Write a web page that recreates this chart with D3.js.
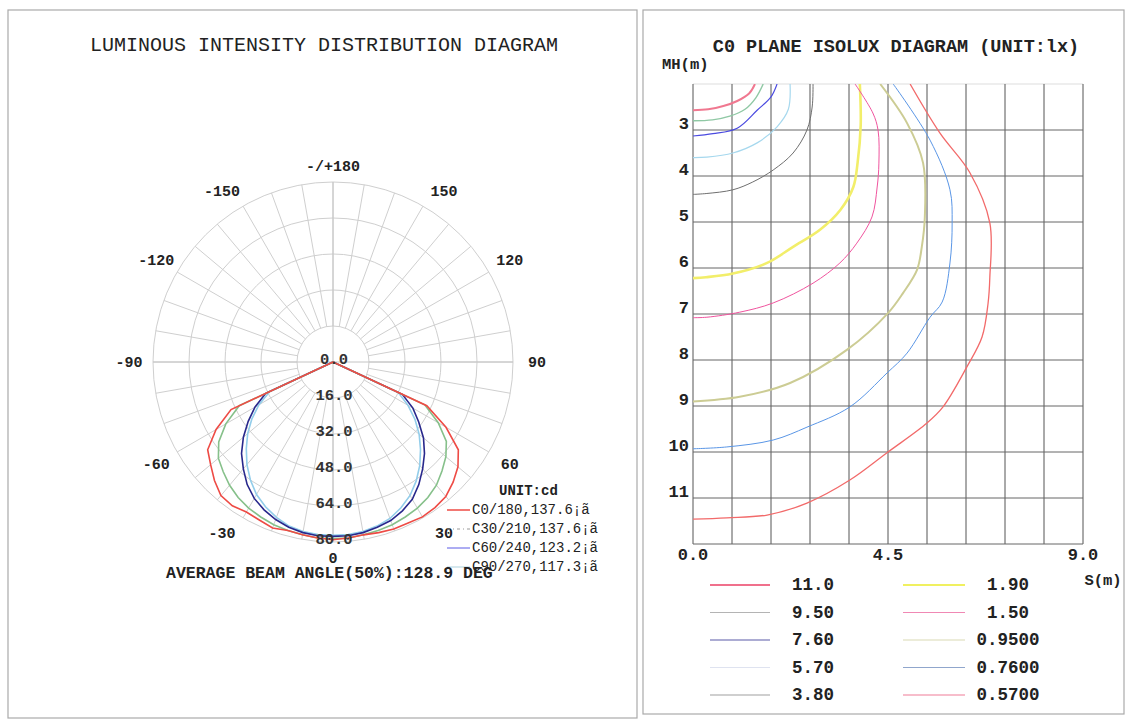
<!DOCTYPE html>
<html>
<head>
<meta charset="utf-8">
<script src="https://cdn.jsdelivr.net/npm/d3@7"></script>
<style>
body { margin: 0; background: #fff; }
svg text { font-family: "Liberation Mono", "DejaVu Sans Mono", monospace; fill: #222; }
</style>
</head>
<body>
<svg id="chart" width="1126" height="720"></svg>
<script>
// ---- luminous intensity (polar) data ----
var gammaAngles = [0, 5, 10, 15, 20, 25, 30, 35, 40, 45, 50, 55, 60, 65, 90];
var c0Values   = [79, 78.5, 78, 78.5, 79, 79, 79.5, 79, 78, 75.5, 72.5, 68, 58, 46, 0];
var c180Values = [79, 78.5, 78, 77.5, 78.5, 77.5, 77, 78, 77.5, 74.5, 71, 68, 60, 50, 0];
var c30Values  = [78.5, 78.5, 78, 77.5, 77, 76, 75, 73.5, 71.5, 68.5, 65.5, 61.5, 54, 45, 0];
var c210Values = [78.5, 78.5, 78, 77.5, 77, 76, 75, 73.5, 71.5, 69, 66.5, 62, 55, 46, 0];
var c60Values  = [77.5, 77.5, 77, 76, 75, 73, 70.5, 66.5, 62, 57.5, 52.5, 46.5, 41, 34, 0];
var c240Values = [77.5, 77.5, 77, 76, 74.5, 72.5, 70, 66.5, 62, 57.5, 52, 46, 40, 33, 0];
var c90Values  = [77, 77, 76.5, 75.5, 74, 71.5, 68.5, 64.5, 60, 55, 50, 44.5, 38.5, 32, 0];
var c270Values = [77, 77, 76.5, 75.5, 73.5, 71, 68, 64, 59.5, 54.5, 49.5, 44, 38, 31, 0];
var polarLegend = ["C0/180,137.6¡ã", "C30/210,137.6¡ã", "C60/240,123.2¡ã", "C90/270,117.3¡ã"];
var ringTicks = [0, 16, 32, 48, 64, 80];
var angleTicks = [0, 30, 60, 90, 120, 150, 180, -30, -60, -90, -120, -150];

// ---- isolux data (S in m, MH in m) ----
var isoLevels = ["11.0", "9.50", "7.60", "5.70", "3.80", "1.90", "1.50", "0.9500", "0.7600", "0.5700"];
var iso110 = [[1.43, 2.0], [1.3, 2.2], [1.02, 2.37], [0.7, 2.48], [0.35, 2.55], [0, 2.57]];
var iso95  = [[1.62, 2.0], [1.45, 2.3], [1.2, 2.55], [0.85, 2.7], [0.45, 2.78], [0, 2.8]];
var iso76  = [[1.94, 2.0], [1.8, 2.28], [1.48, 2.57], [1.02, 2.96], [0.46, 3.08], [0, 3.13]];
var iso57  = [[2.24, 2.0], [2.2, 2.55], [1.94, 2.93], [1.48, 3.28], [0.92, 3.5], [0.32, 3.59], [0, 3.6]];
var iso38  = [[2.77, 2.0], [2.75, 2.5], [2.63, 3.0], [2.31, 3.5], [1.85, 3.87], [1.38, 4.13], [0.92, 4.3], [0.32, 4.38], [0, 4.4]];
var iso19  = [[3.85, 2.0], [3.87, 2.9], [3.8, 3.7], [3.7, 4.24], [3.4, 4.74], [2.93, 5.17], [2.31, 5.54], [1.71, 5.89], [0.92, 6.12], [0.3, 6.2], [0, 6.22]];
var iso15  = [[3.74, 2.0], [4.15, 2.63], [4.27, 3.0], [4.29, 3.72], [4.25, 4.24], [4.13, 4.89], [3.78, 5.46], [3.39, 5.89], [2.77, 6.33], [1.85, 6.76], [1.08, 6.96], [0.32, 7.07], [0, 7.08]];
var iso095 = [[4.32, 2.0], [4.94, 2.85], [5.31, 3.72], [5.35, 4.89], [5.28, 5.54], [5.17, 6.04], [4.85, 6.54], [4.5, 6.98], [3.55, 7.78], [2.24, 8.5], [1.08, 8.8], [0, 8.9]];
var iso076 = [[4.62, 2.0], [5.47, 3.22], [5.93, 4.3], [5.98, 5.02], [5.93, 5.89], [5.75, 6.74], [5.47, 7.07], [4.94, 7.85], [4.48, 8.28], [3.62, 9.02], [2.63, 9.46], [1.85, 9.74], [0.78, 9.89], [0, 9.93]];
var iso057 = [[5.01, 2.0], [5.7, 3.07], [6.39, 3.93], [6.85, 5.02], [6.85, 6.2], [6.81, 6.76], [6.67, 7.5], [6.32, 8.15], [5.77, 9.02], [5.4, 9.37], [4.5, 10.0], [3.62, 10.61], [2.63, 11.11], [1.71, 11.37], [0.78, 11.43], [0, 11.46]];
var sTicks = [0, 0.9, 1.8, 2.7, 3.6, 4.5, 5.4, 6.3, 7.2, 8.1, 9.0];
var sLabels = [0, 4.5, 9.0];
var mhTicks = [3, 4, 5, 6, 7, 8, 9, 10, 11, 12];

var svg = d3.select("#chart");

// panel frames
svg.append("rect").attr("x", 8).attr("y", 10).attr("width", 629).attr("height", 708)
    .attr("fill", "none").attr("stroke", "#aaa").attr("stroke-width", 1.2);
svg.append("rect").attr("x", 643).attr("y", 10).attr("width", 481).attr("height", 704)
    .attr("fill", "none").attr("stroke", "#aaa").attr("stroke-width", 1.2);

// ================= polar diagram =================
var cx = 333, cy = 362;
var r = d3.scaleLinear().domain([0, 80]).range([0, 180]);
var toRad = Math.PI / 180;

svg.append("text").attr("x", 324).attr("y", 51).attr("text-anchor", "middle")
    .style("font-size", "20px").text("LUMINOUS INTENSITY DISTRIBUTION DIAGRAM");

var polar = svg.append("g").attr("transform", "translate(" + cx + "," + cy + ")");

// rings
polar.selectAll(".ring")
    .data(ringTicks.filter(function (d) { return d > 0; }))
    .enter().append("circle")
    .attr("r", function (d) { return r(d); })
    .attr("fill", "none").attr("stroke", "#cfcfcf").attr("stroke-width", 1);

// spokes every 10 deg
var spokes = d3.range(0, 360, 10);
polar.selectAll(".spoke")
    .data(spokes)
    .enter().append("line")
    .attr("x1", function (d) { return r(16) * Math.sin(d * toRad); })
    .attr("y1", function (d) { return r(16) * Math.cos(d * toRad); })
    .attr("x2", function (d) { return r(80) * Math.sin(d * toRad); })
    .attr("y2", function (d) { return r(80) * Math.cos(d * toRad); })
    .attr("stroke", "#cfcfcf").attr("stroke-width", 1);
polar.append("line").attr("x1", 0).attr("x2", 0).attr("y1", -r(80)).attr("y2", r(80))
    .attr("stroke", "#c4c4c4");
polar.append("line").attr("y1", 0).attr("y2", 0).attr("x1", -r(80)).attr("x2", r(80))
    .attr("stroke", "#c4c4c4");

// angle labels (the 30/150 ones sit a little wider, as in the print)
function labelAngle(d) {
    var a = Math.abs(d), s = d < 0 ? -1 : 1;
    if (a == 30) return s * 33;
    if (a == 150) return s * 147;
    return d;
}
polar.selectAll(".alabel")
    .data(angleTicks)
    .enter().append("text")
    .attr("x", function (d) { return 204 * Math.sin(labelAngle(d) * toRad); })
    .attr("y", function (d) { var rr = (d == 0 || d == 180) ? 196 : 204; return rr * Math.cos(labelAngle(d) * toRad); })
    .attr("dy", "0.35em")
    .attr("text-anchor", "middle")
    .style("font-size", "15px").style("font-weight", "bold")
    .text(function (d) { return d == 180 ? "-/+180" : d; });

// curves
var polarSeries = [
    { left: c180Values, right: c0Values, color: "#ee4b45" },
    { left: c210Values, right: c30Values, color: "#86c08a" },
    { left: c240Values, right: c60Values, color: "#28288c" },
    { left: c270Values, right: c90Values, color: "#92cdea" }
];

var radial = d3.lineRadial()
    .angle(function (d) { return Math.PI - d[0] * toRad; })
    .radius(function (d) { return r(d[1]); });

// draw in reverse so red sits on top like the reference
polarSeries.slice().reverse().forEach(function (s) {
    var pts = [];
    for (var i = gammaAngles.length - 1; i >= 0; i--) pts.push([-gammaAngles[i], s.left[i]]);
    for (var j = 1; j < gammaAngles.length; j++) pts.push([gammaAngles[j], s.right[j]]);
    polar.append("path")
        .attr("d", radial(pts))
        .attr("fill", "none")
        .attr("stroke", s.color)
        .attr("stroke-width", 1.6);
});

// ring labels
polar.selectAll(".rlabel")
    .data(ringTicks)
    .enter().append("text")
    .attr("x", 1).attr("y", function (d) { return r(d) - 3; })
    .attr("dy", "0.35em").attr("text-anchor", "middle")
    .style("font-size", "15.5px").style("font-weight", "bold").style("fill", "#333")
    .text(function (d) { return d.toFixed(1); });

// legend
svg.append("text").attr("x", 499).attr("y", 495).style("font-size", "14px").style("font-weight", "bold")
    .text("UNIT:cd");
var legendStyles = [
    { color: "#ee4b45", dash: null, w: 1.5 },
    { color: "#999", dash: "3,3,1,3", w: 1 },
    { color: "#5a5ae6", dash: null, w: 1 },
    { color: "#d6e8ee", dash: null, w: 2 }
];
polarLegend.forEach(function (t, i) {
    var y = 510 + i * 19;
    svg.append("line").attr("x1", 447).attr("x2", 470).attr("y1", y).attr("y2", y)
        .attr("stroke", legendStyles[i].color).attr("stroke-width", legendStyles[i].w)
        .attr("stroke-dasharray", legendStyles[i].dash);
    svg.append("text").attr("x", 472).attr("y", y + 4).style("font-size", "14px").text(t);
});

svg.append("text").attr("x", 166).attr("y", 578).style("font-size", "16.5px").style("font-weight", "bold")
    .text("AVERAGE BEAM ANGLE(50%):128.9 DEG");

// ================= isolux diagram =================
var x = d3.scaleLinear().domain([0, 9]).range([693, 1083]);
var y = d3.scaleLinear().domain([2, 12]).range([84, 544]);

svg.append("text").attr("x", 896).attr("y", 52).attr("text-anchor", "middle")
    .style("font-size", "18.5px").style("font-weight", "bold")
    .text("C0 PLANE ISOLUX DIAGRAM (UNIT:lx)");
svg.append("text").attr("x", 662).attr("y", 69).style("font-size", "15.5px").style("font-weight", "bold")
    .text("MH(m)");

var grid = svg.append("g");
grid.append("line").attr("x1", x(0)).attr("x2", x(9)).attr("y1", y(2)).attr("y2", y(2))
    .attr("stroke", "#ddd");
grid.selectAll(".vg").data(sTicks).enter().append("line")
    .attr("x1", function (d) { return x(d); }).attr("x2", function (d) { return x(d); })
    .attr("y1", y(2)).attr("y2", y(12))
    .attr("stroke", "#555").attr("stroke-width", 1);
grid.selectAll(".hg").data(mhTicks).enter().append("line")
    .attr("x1", x(0)).attr("x2", x(9))
    .attr("y1", function (d) { return y(d); }).attr("y2", function (d) { return y(d); })
    .attr("stroke", "#666").attr("stroke-width", 1);

grid.selectAll(".ylab").data(mhTicks.filter(function (d) { return d < 12; })).enter().append("text")
    .attr("x", 689).attr("y", function (d) { return y(d) - 1; })
    .attr("text-anchor", "end").style("font-size", "17px").style("font-weight", "bold")
    .text(function (d) { return d; });
grid.selectAll(".xlab").data(sLabels).enter().append("text")
    .attr("x", function (d) { return x(d); }).attr("y", 560)
    .attr("text-anchor", "middle").style("font-size", "17px").style("font-weight", "bold")
    .text(function (d) { return d.toFixed(1); });
svg.append("text").attr("x", 1103).attr("y", 585).attr("text-anchor", "middle")
    .style("font-size", "15.5px").style("font-weight", "bold").text("S(m)");

svg.append("clipPath").attr("id", "plotClip").append("rect")
    .attr("x", x(0)).attr("y", y(2)).attr("width", x(9) - x(0)).attr("height", y(12) - y(2));

var isoSeries = [iso110, iso95, iso76, iso57, iso38, iso19, iso15, iso095, iso076, iso057];
var isoColors = ["#f07890", "#8fc8a4", "#4b4be0", "#a6d8ee", "#6f6f6f", "#f2ee6a", "#f0549e", "#cccc94", "#5a96e6", "#f26a6a"];
var isoWidths = [2, 1.4, 1.2, 1.2, 1, 2.6, 1, 2, 1, 1.3];
var legendColors = ["#f0708c", "#b4b4b4", "#5a5aa8", "#dfe3f0", "#a0a0a0", "#f0f060", "#f088b4", "#dadab4", "#90a6cc", "#f07c98"];

var contour = d3.line()
    .x(function (d) { return x(d[0]); })
    .y(function (d) { return y(d[1]); })
    .curve(d3.curveCatmullRom.alpha(0.5));

var isoG = svg.append("g").attr("clip-path", "url(#plotClip)");
isoSeries.forEach(function (pts, i) {
    isoG.append("path").attr("d", contour(pts))
        .attr("fill", "none").attr("stroke", isoColors[i]).attr("stroke-width", isoWidths[i]);
});

// isolux legend
isoLevels.forEach(function (lab, i) {
    var col = i < 5 ? 0 : 1;
    var row = i % 5;
    var ly = 585 + row * 27.5;
    var lx1 = col == 0 ? 710 : 903;
    var lx2 = col == 0 ? 770 : 965;
    var tx = col == 0 ? 813 : 1008;
    svg.append("line").attr("x1", lx1).attr("x2", lx2).attr("y1", ly).attr("y2", ly)
        .attr("stroke", legendColors[i]).attr("stroke-width", (i == 0 || i == 5) ? 2.2 : 1.2);
    svg.append("text").attr("x", tx).attr("y", ly + 5).attr("text-anchor", "middle")
        .style("font-size", "17.5px").style("font-weight", "bold").text(lab);
});
</script>
</body>
</html>
